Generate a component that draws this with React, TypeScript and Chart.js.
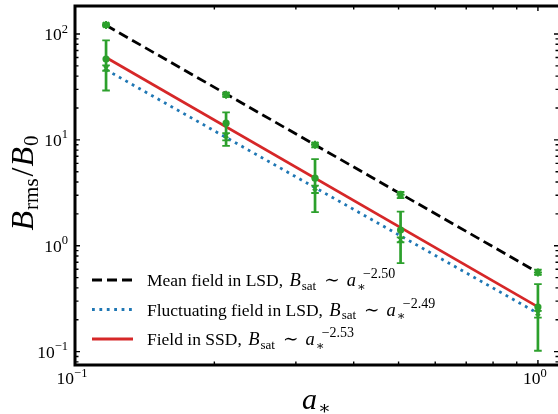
import React, { useEffect, useRef } from "react";
import { Chart, registerables } from "chart.js";
Chart.register(...registerables);

// ---- data ----
const aStar = [0.1167, 0.212, 0.33, 0.505, 1.0];
const meanVals = [122, 26.7, 9.0, 3.03, 0.56];
const meanLo = [118, 25.5, 8.5, 2.82, 0.53];
const meanHi = [126, 27.9, 9.4, 3.22, 0.595];
const ssdVals = [58, 14.4, 4.35, 1.41, 0.264];
const ssdLo = [29.3, 8.8, 2.08, 0.685, 0.102];
const ssdHi = [87, 18.2, 6.59, 2.1, 0.435];
const flucVals = [47.5, 11.0, 3.5, 1.14, 0.231];
const flucLo = [45, 9.9, 3.15, 1.08, 0.21];
const flucHi = [50.6, 11.6, 3.7, 1.2, 0.243];

const fitX = [0.1167, 1.0];
const meanFit = [121, 0.56];
const flucFit = [46, 0.23];
const ssdFit = [60, 0.265];

const xMajorTicks = [0.1, 1];
const xTickExps = ["−1", "0"];
const yMajorTicks = [0.1, 1, 10, 100];
const yTickExps = ["−1", "0", "1", "2"];
const legendNames = ["Mean field in LSD, ", "Fluctuating field in LSD, ", "Field in SSD, "];
const legendExps = ["−2.50", "−2.49", "−2.53"];

const GREEN = "#2ca02c";
const RED = "#d62728";
const BLUE = "#1f77b4";
const SERIF = '"Liberation Serif", "DejaVu Serif", serif';
const DASH = [10, 5];
const DOT = [2.8, 4.6];

type Seg = { t: string; size: number; italic?: boolean; dy?: number; dx?: number; noAdvance?: boolean };

function richWidth(ctx: CanvasRenderingContext2D, segs: Seg[]) {
  let w = 0;
  for (const s of segs) {
    ctx.font = `${s.italic ? "italic " : ""}${s.size}px ${SERIF}`;
    w += s.dx || 0;
    if (!s.noAdvance) w += ctx.measureText(s.t).width;
  }
  return w;
}

function drawRich(ctx: CanvasRenderingContext2D, segs: Seg[], x: number, y: number, align: "left" | "center" | "right") {
  const w = richWidth(ctx, segs);
  let cx = align === "left" ? x : align === "center" ? x - w / 2 : x - w;
  ctx.textAlign = "left";
  ctx.textBaseline = "alphabetic";
  for (const s of segs) {
    ctx.font = `${s.italic ? "italic " : ""}${s.size}px ${SERIF}`;
    cx += s.dx || 0;
    ctx.fillText(s.t, cx, y + (s.dy || 0));
    if (!s.noAdvance) cx += ctx.measureText(s.t).width;
  }
}

export default function App() {
  const ref = useRef<HTMLCanvasElement>(null);
  useEffect(() => {
    const canvas = ref.current!;
    const pts = (vals: number[]) => aStar.map((x, i) => ({ x, y: vals[i] }));
    const fit = (vals: number[]) => fitX.map((x, i) => ({ x, y: vals[i] }));
    const errSets = [
      { lo: meanLo, hi: meanHi },
      { lo: ssdLo, hi: ssdHi },
      { lo: flucLo, hi: flucHi },
    ];

    const plugin = {
      id: "custom",
      afterDatasetsDraw(chart: any) {
        const ctx = chart.ctx as CanvasRenderingContext2D;
        const xs = chart.scales.x, ys = chart.scales.y;
        ctx.save();
        ctx.strokeStyle = GREEN;
        errSets.forEach((e) => {
          aStar.forEach((a, i) => {
            const px = xs.getPixelForValue(a);
            const p1 = ys.getPixelForValue(e.lo[i]);
            const p2 = ys.getPixelForValue(e.hi[i]);
            ctx.lineWidth = 2.7;
            ctx.beginPath();
            ctx.moveTo(px, p1);
            ctx.lineTo(px, p2);
            ctx.stroke();
            ctx.lineWidth = 1.8;
            ctx.beginPath();
            ctx.moveTo(px - 3.8, p1);
            ctx.lineTo(px + 3.8, p1);
            ctx.moveTo(px - 3.8, p2);
            ctx.lineTo(px + 3.8, p2);
            ctx.stroke();
          });
        });
        ctx.restore();
      },
      afterDraw(chart: any) {
        const ctx = chart.ctx as CanvasRenderingContext2D;
        const { left, right, top, bottom } = chart.chartArea;
        const xs = chart.scales.x, ys = chart.scales.y;
        ctx.save();
        ctx.fillStyle = "#000";
        ctx.strokeStyle = "#000";
        // ticks
        ctx.lineWidth = 1.4;
        const yMinor: number[] = [];
        for (let e = -2; e <= 2; e++) for (let m = 2; m <= 9; m++) yMinor.push(m * Math.pow(10, e));
        ctx.beginPath();
        yMinor.forEach((v) => {
          if (v < ys.min || v > ys.max) return;
          const py = ys.getPixelForValue(v);
          ctx.moveTo(left, py); ctx.lineTo(left + 3.5, py);
          ctx.moveTo(right, py); ctx.lineTo(right - 2.5, py);
        });
        yMajorTicks.forEach((v) => {
          const py = ys.getPixelForValue(v);
          ctx.moveTo(left, py); ctx.lineTo(left + 5, py);
          ctx.moveTo(right, py); ctx.lineTo(right - 4, py);
        });
        const xMinor: number[] = [];
        for (let m = 2; m <= 9; m++) xMinor.push(m / 10);
        xMinor.forEach((v) => {
          const px = xs.getPixelForValue(v);
          ctx.moveTo(px, bottom); ctx.lineTo(px, bottom - 3.5);
          ctx.moveTo(px, top); ctx.lineTo(px, top + 3.5);
        });
        xMajorTicks.forEach((v) => {
          const px = xs.getPixelForValue(v);
          ctx.moveTo(px, bottom); ctx.lineTo(px, bottom - 5);
          ctx.moveTo(px, top); ctx.lineTo(px, top + 5);
        });
        ctx.stroke();
        // spines
        ctx.lineWidth = 3;
        ctx.beginPath();
        ctx.moveTo(right + 2, top);
        ctx.lineTo(left, top);
        ctx.lineTo(left, bottom);
        ctx.lineTo(right + 2, bottom);
        ctx.stroke();
        // tick labels
        yMajorTicks.forEach((v, i) => {
          const py = ys.getPixelForValue(v);
          drawRich(ctx, [
            { t: "10", size: 17.5 },
            { t: yTickExps[i], size: 12.5, dy: -7.5 },
          ], 68, py + 6, "right");
        });
        xMajorTicks.forEach((v, i) => {
          const px = xs.getPixelForValue(v);
          drawRich(ctx, [
            { t: "10", size: 17.5 },
            { t: xTickExps[i], size: 12.5, dy: -7.5 },
          ], px - 3, 384, "center");
        });
        // axis titles
        drawRich(ctx, [
          { t: "a", size: 30, italic: true },
          { t: "∗", size: 19, dy: 5, dx: 1 },
        ], (left + right) / 2, 409, "center");
        ctx.save();
        ctx.translate(33, 183);
        ctx.rotate(-Math.PI / 2);
        drawRich(ctx, [
          { t: "B", size: 32, italic: true },
          { t: "rms", size: 21, dy: 5, dx: 1 },
          { t: "/", size: 32, dx: 2 },
          { t: "B", size: 32, italic: true, dx: 1 },
          { t: "0", size: 21, dy: 5, dx: 1 },
        ], 0, 0, "center");
        ctx.restore();
        // legend
        const rows = [
          { color: "#000", dash: DASH, y: 280 },
          { color: BLUE, dash: DOT, y: 309.5 },
          { color: RED, dash: [] as number[], y: 339 },
        ];
        rows.forEach((r, i) => {
          ctx.save();
          ctx.strokeStyle = r.color;
          ctx.lineWidth = 2.8;
          ctx.setLineDash(r.dash);
          ctx.beginPath();
          ctx.moveTo(92, r.y);
          ctx.lineTo(133, r.y);
          ctx.stroke();
          ctx.restore();
          ctx.fillStyle = "#000";
          drawRich(ctx, [
            { t: legendNames[i], size: 17.5 },
            { t: "B", size: 18.5, italic: true, dx: 2 },
            { t: "sat", size: 13, dy: 3.5, dx: 1 },
            { t: "∼", size: 18.5, dx: 8 },
            { t: "a", size: 18.5, italic: true, dx: 7 },
            { t: "∗", size: 13, dy: 4.5, dx: 1, noAdvance: true },
            { t: legendExps[i], size: 14, dy: -8, dx: 6 },
          ], 147, r.y + 6, "left");
        });
        ctx.restore();
      },
    };

    const chart = new Chart(canvas, {
      type: "scatter",
      data: {
        datasets: [
          { label: "mean", data: pts(meanVals), pointStyle: "star", pointRadius: 4, borderWidth: 2, borderColor: GREEN, backgroundColor: GREEN, showLine: false },
          { label: "ssd", data: pts(ssdVals), pointStyle: "circle", pointRadius: 3.6, borderWidth: 0, borderColor: GREEN, backgroundColor: GREEN, showLine: false },
          { label: "fluc", data: pts(flucVals), pointStyle: "crossRot", pointRadius: 3.2, borderWidth: 1.8, borderColor: GREEN, backgroundColor: GREEN, showLine: false },
          { label: "meanFit", data: fit(meanFit), showLine: true, pointRadius: 0, borderColor: "#000", borderWidth: 2.8, borderDash: DASH, fill: false },
          { label: "flucFit", data: fit(flucFit), showLine: true, pointRadius: 0, borderColor: BLUE, borderWidth: 2.8, borderDash: DOT, fill: false },
          { label: "ssdFit", data: fit(ssdFit), showLine: true, pointRadius: 0, borderColor: RED, borderWidth: 2.7, fill: false },
        ],
      },
      options: {
        animation: false,
        responsive: false,
        maintainAspectRatio: false,
        layout: { autoPadding: false, padding: { top: 6, right: 0, left: 0, bottom: 0 } },
        plugins: { legend: { display: false }, tooltip: { enabled: false } },
        scales: {
          x: {
            type: "logarithmic", min: 0.1, max: 1.105,
            ticks: { display: false }, grid: { display: false }, border: { display: false },
            afterFit: (s: any) => { s.height = 49; },
          },
          y: {
            type: "logarithmic", min: 0.0748, max: 184,
            ticks: { display: false }, grid: { display: false }, border: { display: false },
            afterFit: (s: any) => { s.width = 75; },
          },
        },
      } as any,
      plugins: [plugin],
    });
    return () => chart.destroy();
  }, []);
  return (
    <div style={{ position: "fixed", left: 0, top: 0, width: 558, height: 414, background: "#fff" }}>
      <canvas ref={ref} width={558} height={414} style={{ display: "block" }} />
    </div>
  );
}
